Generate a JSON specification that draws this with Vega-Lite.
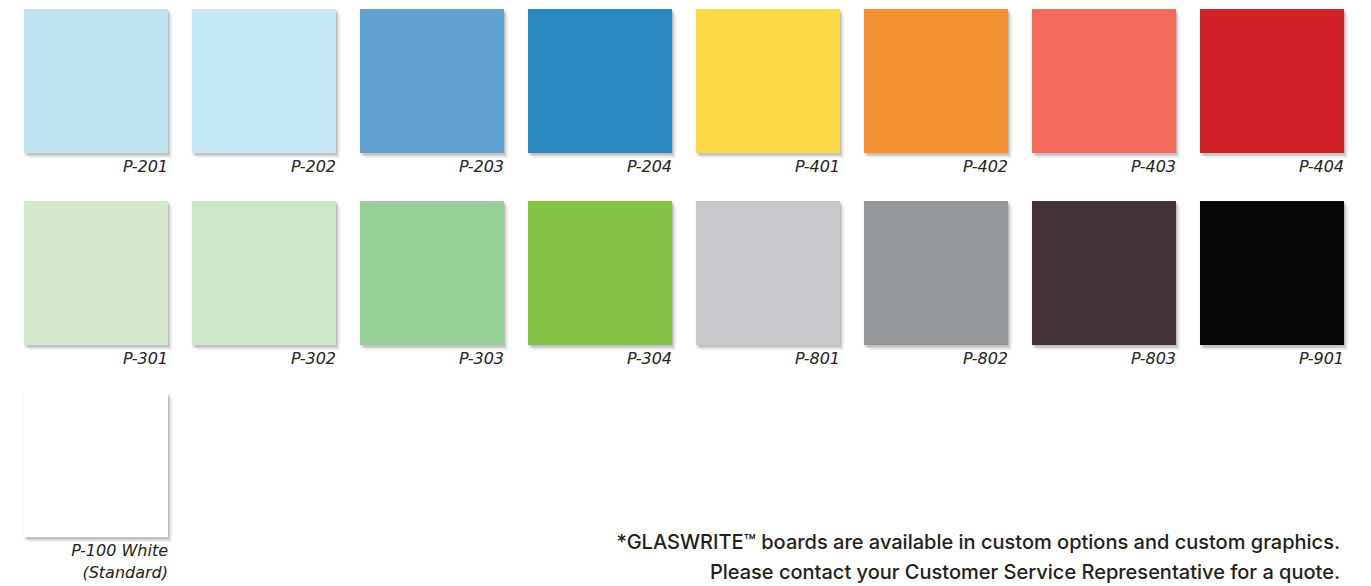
{
  "$schema": "https://vega.github.io/schema/vega-lite/v6.json",
  "width": 1320,
  "height": 528,
  "autosize": {"type": "none"},
  "padding": {"left": 24, "top": 9, "right": 27, "bottom": 49},
  "background": "#ffffff",
  "config": {"view": {"stroke": null}},
  "datasets": {
    "swatches": [
      {"code": "P-201", "label": "P-201", "row": 0, "col": 0},
      {"code": "P-202", "label": "P-202", "row": 0, "col": 1},
      {"code": "P-203", "label": "P-203", "row": 0, "col": 2},
      {"code": "P-204", "label": "P-204", "row": 0, "col": 3},
      {"code": "P-401", "label": "P-401", "row": 0, "col": 4},
      {"code": "P-402", "label": "P-402", "row": 0, "col": 5},
      {"code": "P-403", "label": "P-403", "row": 0, "col": 6},
      {"code": "P-404", "label": "P-404", "row": 0, "col": 7},
      {"code": "P-301", "label": "P-301", "row": 1, "col": 0},
      {"code": "P-302", "label": "P-302", "row": 1, "col": 1},
      {"code": "P-303", "label": "P-303", "row": 1, "col": 2},
      {"code": "P-304", "label": "P-304", "row": 1, "col": 3},
      {"code": "P-801", "label": "P-801", "row": 1, "col": 4},
      {"code": "P-802", "label": "P-802", "row": 1, "col": 5},
      {"code": "P-803", "label": "P-803", "row": 1, "col": 6},
      {"code": "P-901", "label": "P-901", "row": 1, "col": 7},
      {"code": "P-100", "label": "P-100 White\n(Standard)", "row": 2, "col": 0}
    ],
    "note": [
      {"row": 2, "col": 7, "note": "*GLASWRITE™ boards are available in custom options and custom graphics.\nPlease contact your Customer Service Representative for a quote."}
    ]
  },
  "encoding": {
    "x": {"field": "col", "type": "ordinal", "axis": null, "scale": {"paddingInner": 0.142857, "paddingOuter": 0}},
    "y": {"field": "row", "type": "ordinal", "axis": null, "scale": {"paddingInner": 0.25, "paddingOuter": 0}}
  },
  "layer": [
    {"data": {"name": "swatches"}, "mark": {"type": "rect", "filled": false, "stroke": "#000000", "strokeOpacity": 0.05, "strokeWidth": 3, "xOffset": 1, "yOffset": 2}},
    {"data": {"name": "swatches"}, "mark": {"type": "rect", "color": "#000000", "opacity": 0.06, "xOffset": 4, "yOffset": 5}},
    {"data": {"name": "swatches"}, "mark": {"type": "rect", "color": "#000000", "opacity": 0.08, "xOffset": 2, "yOffset": 3}},
    {"data": {"name": "swatches"}, "mark": {"type": "rect", "color": "#000000", "opacity": 0.1, "xOffset": 1, "yOffset": 1.5}},
    {
      "data": {"name": "swatches"},
      "mark": {"type": "rect"},
      "encoding": {
        "color": {
          "field": "code", "type": "nominal", "legend": null,
          "scale": {
            "domain": ["P-201","P-202","P-203","P-204","P-401","P-402","P-403","P-404","P-301","P-302","P-303","P-304","P-801","P-802","P-803","P-901","P-100"],
            "range": ["#bee4ef","#c5e8f7","#62a2d2","#2b89c2","#fdd944","#f6912f","#f3695a","#d02128","#d3e8cc","#cde6c9","#97cf97","#82c242","#c8c9cc","#939799","#42333a","#060606","#ffffff"]
          }
        }
      }
    },
    {
      "data": {"name": "swatches"},
      "mark": {"type": "text", "align": "right", "baseline": "middle", "dy": 14, "font": "DejaVu Sans", "fontStyle": "oblique", "fontSize": 16, "color": "#222222", "lineBreak": "\n", "lineHeight": 22},
      "encoding": {
        "x": {"field": "col", "type": "ordinal", "bandPosition": 1},
        "y": {"field": "row", "type": "ordinal", "bandPosition": 1},
        "text": {"field": "label"}
      }
    },
    {
      "data": {"name": "note"},
      "mark": {"type": "text", "align": "right", "baseline": "middle", "dx": -4, "dy": 6, "font": "Inter", "fontWeight": 500, "fontSize": 20, "color": "#231f20", "lineBreak": "\n", "lineHeight": 30},
      "encoding": {
        "x": {"field": "col", "type": "ordinal", "bandPosition": 1},
        "y": {"field": "row", "type": "ordinal", "bandPosition": 1},
        "text": {"field": "note"}
      }
    }
  ]
}
